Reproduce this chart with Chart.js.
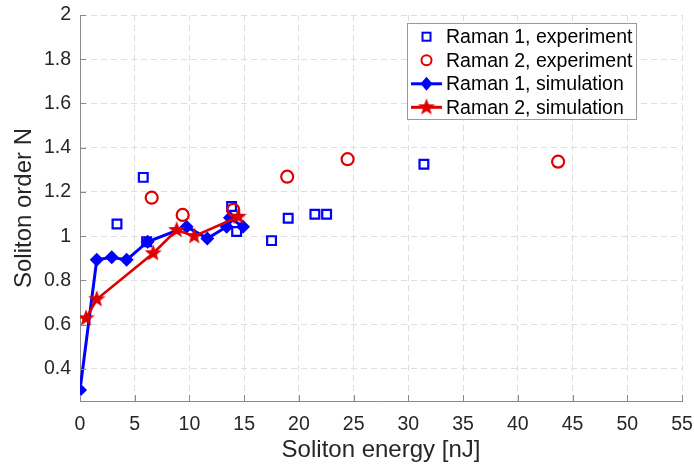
<!DOCTYPE html>
<html>
<head>
<meta charset="utf-8">
<script src="https://cdn.jsdelivr.net/npm/chart.js@4/dist/chart.umd.min.js"></script>
<style>
  html, body { margin: 0; padding: 0; background: #fff; }
  #wrap { width: 694px; height: 467px; }
</style>
</head>
<body>
<div id="wrap"><canvas id="chart" width="694" height="467"></canvas></div>
<script>
// Raman 1, experiment (open blue squares)
const exp1X = [3.38, 5.78, 6.09, 13.85, 14.31, 17.5, 19.02, 21.46, 22.53, 31.42];
const exp1Y = [1.055, 1.266, 0.975, 1.134, 1.021, 0.98, 1.081, 1.099, 1.099, 1.325];
// Raman 2, experiment (open red circles)
const exp2X = [6.55, 9.38, 14.0, 18.93, 24.45, 43.68];
const exp2Y = [1.174, 1.096, 1.119, 1.269, 1.348, 1.337];
// Raman 1, simulation (blue diamonds + line)
const sim1X = [0, 1.53, 2.9, 4.26, 6.18, 9.74, 11.63, 13.4, 13.7, 14.9];
const sim1Y = [0.305, 0.893, 0.905, 0.893, 0.975, 1.043, 0.99, 1.043, 1.083, 1.043];
// Raman 2, simulation (red stars + line)
const sim2X = [0.55, 1.53, 6.69, 8.83, 10.44, 14.46];
const sim2Y = [0.629, 0.715, 0.923, 1.028, 1.0, 1.088];

const xTicks = [0, 5, 10, 15, 20, 25, 30, 35, 40, 45, 50, 55];
const yTicks = [0.4, 0.6, 0.8, 1, 1.2, 1.4, 1.6, 1.8, 2];
const legendLabels = ['Raman 1, experiment', 'Raman 2, experiment', 'Raman 1, simulation', 'Raman 2, simulation'];

const BLUE = '#0000ff';
const RED = '#dd0000';
const AXIS = '#8a8a8a';
const TEXT = '#262626';
const FONT = '"Liberation Sans", Arial, sans-serif';

function pts(xs, ys) { return xs.map((x, i) => ({x: x, y: ys[i]})); }

function makeStar(r, color) {
    const c = document.createElement('canvas');
    const s = Math.ceil(2 * r + 2);
    c.width = s; c.height = s;
    const g = c.getContext('2d');
    g.fillStyle = color;
    g.beginPath();
    for (let i = 0; i < 10; i++) {
        const a = -Math.PI / 2 + i * Math.PI / 5;
        const rr = i % 2 ? r * 0.42 : r;
        const px = s / 2 + rr * Math.cos(a), py = s / 2 + rr * Math.sin(a);
        if (i === 0) g.moveTo(px, py); else g.lineTo(px, py);
    }
    g.closePath();
    g.fill();
    return c;
}
const starImg = makeStar(9, RED);

// inward tick marks + legend box
const extras = {
    id: 'extras',
    afterDraw(chart) {
        const ctx = chart.ctx;
        const xs = chart.scales.x, ys = chart.scales.y;
        const a = chart.chartArea;
        ctx.save();
        ctx.strokeStyle = AXIS;
        ctx.lineWidth = 1;
        ctx.beginPath();
        xTicks.forEach(v => {
            const px = Math.round(xs.getPixelForValue(v)) + 0.5;
            ctx.moveTo(px, a.bottom); ctx.lineTo(px, a.bottom - 6);
        });
        yTicks.forEach(v => {
            const py = Math.round(ys.getPixelForValue(v)) + 0.5;
            ctx.moveTo(a.left, py); ctx.lineTo(a.left + 6, py);
        });
        ctx.stroke();

        // legend
        const bx = 407, by = 23, bw = 229, bh = 96;
        ctx.fillStyle = '#fff';
        ctx.fillRect(bx, by, bw, bh);
        ctx.strokeStyle = '#9a9a9a';
        ctx.strokeRect(bx + 0.5, by + 0.5, bw, bh);
        const rows = [36.7, 60.2, 83.8, 107.3];
        const mx = 426.5;
        ctx.font = '19.5px ' + FONT;
        ctx.textBaseline = 'middle';
        ctx.textAlign = 'left';
        rows.forEach((ry, i) => {
            ctx.lineWidth = 2;
            if (i === 0) {
                ctx.strokeStyle = BLUE;
                ctx.strokeRect(mx - 4, ry - 4, 8, 8);
            } else if (i === 1) {
                ctx.strokeStyle = RED;
                ctx.beginPath(); ctx.arc(mx, ry, 5, 0, Math.PI * 2); ctx.stroke();
            } else if (i === 2) {
                ctx.strokeStyle = BLUE; ctx.lineWidth = 3;
                ctx.beginPath(); ctx.moveTo(411, ry); ctx.lineTo(442, ry); ctx.stroke();
                ctx.fillStyle = BLUE;
                ctx.beginPath();
                ctx.moveTo(mx, ry - 7); ctx.lineTo(mx + 6, ry); ctx.lineTo(mx, ry + 7); ctx.lineTo(mx - 6, ry);
                ctx.closePath(); ctx.fill();
            } else {
                ctx.strokeStyle = RED; ctx.lineWidth = 3;
                ctx.beginPath(); ctx.moveTo(411, ry); ctx.lineTo(442, ry); ctx.stroke();
                ctx.drawImage(starImg, mx - starImg.width / 2, ry - starImg.height / 2);
            }
            ctx.fillStyle = '#000';
            ctx.fillText(legendLabels[i], 446, ry + 1);
        });
        ctx.restore();
    }
};

new Chart(document.getElementById('chart'), {
    type: 'scatter',
    data: {
        datasets: [
            {
                label: legendLabels[1], data: pts(exp2X, exp2Y), order: 1,
                pointStyle: 'circle', pointRadius: 6, pointHoverRadius: 6,
                borderColor: RED, backgroundColor: 'rgba(0,0,0,0)', borderWidth: 2.2, showLine: false
            },
            {
                label: legendLabels[0], data: pts(exp1X, exp1Y), order: 2,
                pointStyle: 'rect', pointRadius: 6.2, pointHoverRadius: 6.2,
                borderColor: BLUE, backgroundColor: 'rgba(0,0,0,0)', borderWidth: 2.2, showLine: false
            },
            {
                label: legendLabels[3], data: pts(sim2X, sim2Y), order: 3,
                pointStyle: starImg, pointRadius: 9,
                borderColor: RED, backgroundColor: RED, borderWidth: 2.6, showLine: true, tension: 0
            },
            {
                label: legendLabels[2], data: pts(sim1X, sim1Y), order: 4,
                pointStyle: 'rectRot', pointRadius: 7, pointHoverRadius: 7,
                borderColor: BLUE, backgroundColor: BLUE, pointBorderWidth: 0, borderWidth: 3, showLine: true, tension: 0
            }
        ]
    },
    options: {
        responsive: false,
        animation: false,
        events: [],
        layout: { padding: 0 },
        plugins: { legend: { display: false }, tooltip: { enabled: false } },
        scales: {
            x: {
                type: 'linear', min: 0, max: 55,
                afterBuildTicks: s => { s.ticks = xTicks.map(v => ({value: v})); },
                afterFit: s => { s.height = 66; s.paddingRight = 12; s.paddingLeft = 0; },
                grid: { color: '#dedede', lineWidth: 1, drawTicks: false },
                border: { color: AXIS, width: 1, dash: [6, 4] },
                ticks: { color: TEXT, font: { family: FONT, size: 19.5 }, padding: 12, maxRotation: 0, callback: v => String(v) },
                title: { display: true, text: 'Soliton energy [nJ]', color: TEXT, font: { family: FONT, size: 24, lineHeight: 1 }, padding: { top: 5, bottom: 5 } }
            },
            y: {
                type: 'linear', min: 0.255, max: 2,
                afterBuildTicks: s => { s.ticks = yTicks.map(v => ({value: v})); },
                afterFit: s => { s.width = 80; s.paddingTop = 15; s.paddingBottom = 0; },
                grid: { color: '#dedede', lineWidth: 1, drawTicks: false },
                border: { color: AXIS, width: 1, dash: [6, 4] },
                ticks: { color: TEXT, font: { family: FONT, size: 19.5 }, padding: 9, callback: v => String(v) },
                title: { display: true, text: 'Soliton order N', color: TEXT, font: { family: FONT, size: 24, lineHeight: 1 }, padding: { top: 12, bottom: 12 } }
            }
        }
    },
    plugins: [extras]
});
</script>
</body>
</html>
